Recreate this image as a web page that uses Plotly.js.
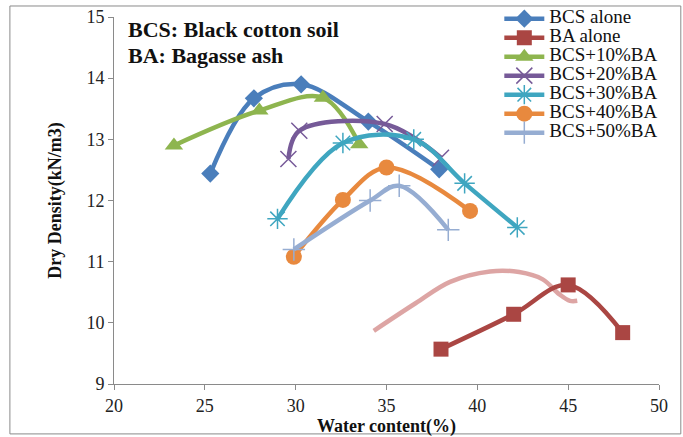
<!DOCTYPE html>
<html>
<head>
<meta charset="utf-8">
<script src="https://cdn.plot.ly/plotly-3.0.1.min.js"></script>
<style>html,body{margin:0;padding:0;background:#fff;}#chart{width:683px;height:437px;}</style>
</head>
<body>
<div id="chart"></div>
<script>
// Data
const seriesNames = ["BCS alone", "BA alone", "BCS+10%BA", "BCS+20%BA", "BCS+30%BA", "BCS+40%BA", "BCS+50%BA"];
const bcsX = [25.3, 27.7, 30.3, 34.0, 37.9];
const bcsY = [12.44, 13.67, 13.90, 13.29, 12.51];
const baX = [38.0, 42.0, 45.0, 48.0];
const baY = [9.57, 10.14, 10.62, 9.84];
const ba10X = [23.3, 28.0, 31.5, 33.5];
const ba10Y = [12.90, 13.47, 13.68, 12.92];
const ba20X = [29.6, 30.2, 34.9, 38.0];
const ba20Y = [12.68, 13.14, 13.25, 12.70];
const ba30X = [29.0, 32.6, 36.5, 39.3, 42.2];
const ba30Y = [11.70, 12.94, 13.00, 12.28, 11.56];
const ba40X = [29.9, 32.6, 35.0, 39.6];
const ba40Y = [11.08, 12.01, 12.54, 11.83];
const ba50X = [29.9, 34.1, 35.7, 38.4];
const ba50Y = [11.20, 12.00, 12.24, 11.52];
// unlabeled pale curve near BA alone
const paleX = [34.3, 36.6, 38.5, 40.7, 42.3, 43.6, 44.5, 45.1, 45.5];
const paleY = [9.87, 10.32, 10.67, 10.84, 10.83, 10.71, 10.47, 10.36, 10.36];
const xTicks = [20, 25, 30, 35, 40, 45, 50];
const yTicks = [9, 10, 11, 12, 13, 14, 15];

const serif = "'Liberation Serif', 'Times New Roman', serif";

function tr(name, x, y, color, symbol, size, mline) {
  const m = {symbol: symbol, size: size, color: color};
  if (mline) m.line = {color: mline, width: 1.5};
  return {
    type: "scatter", mode: "lines+markers",
    name: '<span style="font-size:19px">' + name + '</span>', x: x, y: y,
    line: {color: color, width: 4.5, shape: "spline", smoothing: 1},
    marker: m
  };
}

const data = [
  {type: "scatter", mode: "lines", x: paleX, y: paleY, showlegend: false, hoverinfo: "skip",
   line: {color: "rgba(210,135,133,0.75)", width: 4.5, shape: "spline", smoothing: 1}},
  tr(seriesNames[0], bcsX, bcsY, "#4A7EBB", "diamond", 14),
  tr(seriesNames[1], baX, baY, "#AA4643", "square", 15),
  tr(seriesNames[2], ba10X, ba10Y, "#8EB54F", "triangle-up", 16),
  tr(seriesNames[3], ba20X, ba20Y, "#765A98", "x-thin-open", 16, "#A08CC0"),
  tr(seriesNames[4], ba30X, ba30Y, "#3FA6C0", "asterisk-open", 17, "#7CC4D8"),
  tr(seriesNames[5], ba40X, ba40Y, "#E8893E", "circle", 16),
  tr(seriesNames[6], ba50X, ba50Y, "#96ADD2", "cross-thin-open", 16, "#93A9CF")
];

const layout = {
  width: 683, height: 437,
  margin: {l: 114, r: 24, t: 17, b: 53, autoexpand: false},
  paper_bgcolor: "#fff", plot_bgcolor: "#fff",
  font: {family: serif, size: 18, color: "#222"},
  showlegend: true,
  legend: {x: 0.707, y: 1.035, xanchor: "left", yanchor: "top",
           font: {family: serif, size: 12, color: "#111"},
           bgcolor: "rgba(0,0,0,0)", tracegroupgap: 0, itemwidth: 40},
  xaxis: {range: [20, 50], tickvals: xTicks, ticktext: xTicks.map(String),
          showgrid: false, zeroline: false, showline: true, linecolor: "#8a8a8a", linewidth: 1,
          ticks: "outside", ticklen: 5, tickcolor: "#8a8a8a",
          tickfont: {family: serif, size: 18, color: "#222"},
          title: {text: "<b>Water content(%)</b>", font: {family: serif, size: 18, color: "#111"}, standoff: 0}},
  yaxis: {range: [9, 15], tickvals: yTicks, ticktext: yTicks.map(String),
          showgrid: false, zeroline: false, showline: true, linecolor: "#8a8a8a", linewidth: 1,
          ticks: "outside", ticklen: 5, tickcolor: "#8a8a8a",
          tickfont: {family: serif, size: 18, color: "#222"},
          title: {text: "<b>Dry Density(kN/m3)</b>", font: {family: serif, size: 18, color: "#111"}, standoff: 20}},
  annotations: [
    {xref: "paper", yref: "paper", x: 0.022, y: 0.965, xanchor: "left", yanchor: "middle", showarrow: false,
     text: "<b>BCS: Black cotton soil</b>", font: {family: serif, size: 22, color: "#111"}},
    {xref: "paper", yref: "paper", x: 0.022, y: 0.894, xanchor: "left", yanchor: "middle", showarrow: false,
     text: "<b>BA: Bagasse ash</b>", font: {family: serif, size: 22, color: "#111"}}
  ],
  shapes: [
    {type: "rect", xref: "paper", yref: "paper", x0: -0.191, x1: 1.04, y0: -0.136, y1: 1.03,
     line: {color: "#8a8a8a", width: 1}, fillcolor: "rgba(0,0,0,0)", layer: "below"}
  ]
};

Plotly.newPlot("chart", data, layout, {displayModeBar: false, staticPlot: true});
</script>
</body>
</html>
